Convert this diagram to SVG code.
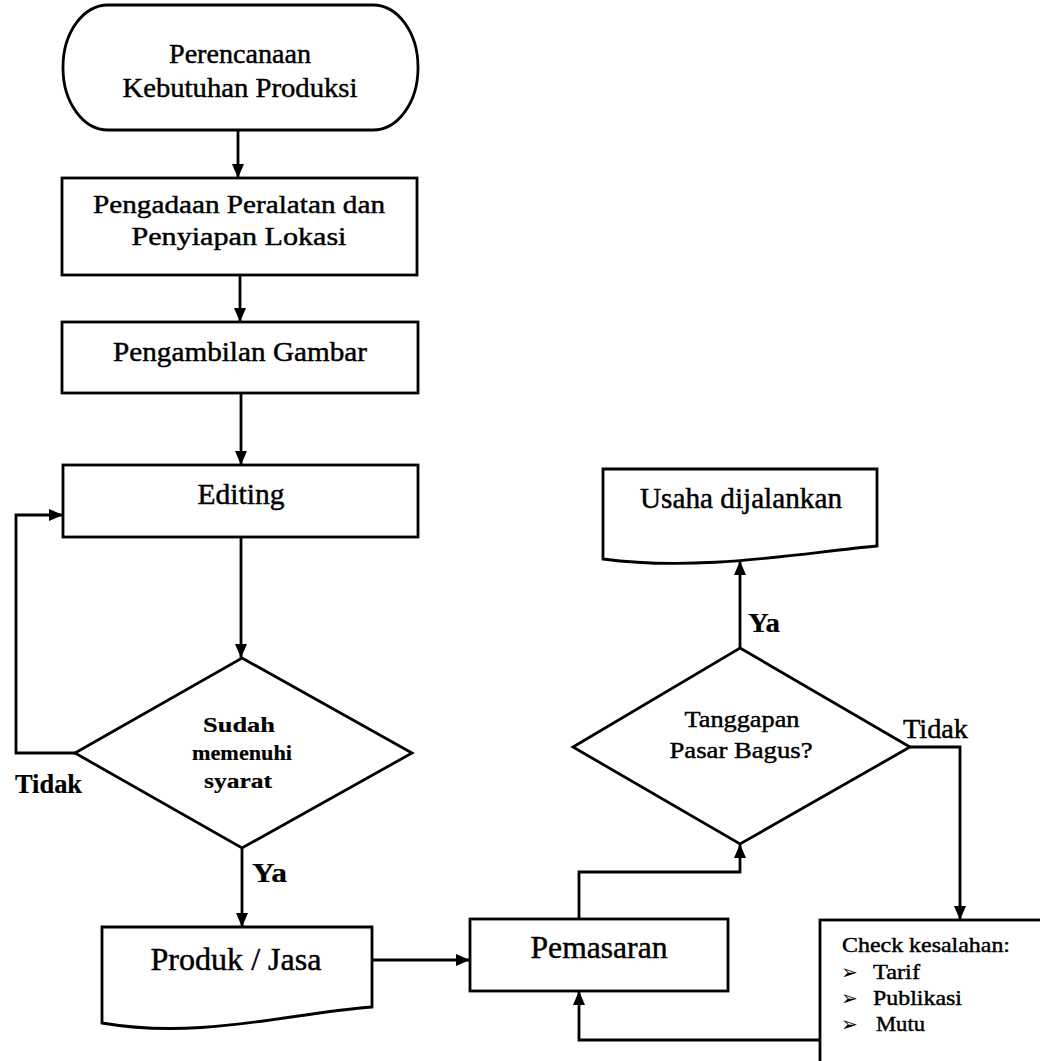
<svg xmlns="http://www.w3.org/2000/svg" width="1040" height="1061" viewBox="0 0 1040 1061">
<style>
.s{fill:#fff;stroke:#000;stroke-width:2.8}
.c{fill:none;stroke:#000;stroke-width:2.8}
.t{font-family:"Liberation Serif","Times New Roman",serif;fill:#000;stroke:#000;stroke-width:0.45}
.m{text-anchor:middle}
.b{font-weight:bold;stroke-width:0.2}
.bl{font-family:"DejaVu Sans",sans-serif;font-size:20px;fill:#000}
</style>
<defs>
<marker id="ah" markerWidth="14" markerHeight="14" refX="14" refY="7" orient="auto" markerUnits="userSpaceOnUse">
<path d="M0,1 L14,7 L0,13 z" fill="#000"/>
</marker>
</defs>
<rect width="1040" height="1061" fill="#fff"/>
<g id="connectors">
<path class="c" d="M238,130 V178" marker-end="url(#ah)"/>
<path class="c" d="M240,275 V322" marker-end="url(#ah)"/>
<path class="c" d="M241,393 V465" marker-end="url(#ah)"/>
<path class="c" d="M241,537 V658" marker-end="url(#ah)"/>
<path class="c" d="M75,753 H16 V515 H63" marker-end="url(#ah)"/>
<path class="c" d="M242,848 V927" marker-end="url(#ah)"/>
<path class="c" d="M372,960 H470" marker-end="url(#ah)"/>
<path class="c" d="M579,919 V872 H740 V844" marker-end="url(#ah)"/>
<path class="c" d="M740,648 V561" marker-end="url(#ah)"/>
<path class="c" d="M910,747 H960 V920" marker-end="url(#ah)"/>
<path class="c" d="M820,1040 H579 V991" marker-end="url(#ah)"/>
<text class="t b" x="15" y="793" font-size="27" textLength="67" lengthAdjust="spacingAndGlyphs">Tidak</text>
<text class="t b" x="252" y="882" font-size="27" textLength="35" lengthAdjust="spacingAndGlyphs">Ya</text>
<text class="t b" x="748" y="632" font-size="27" textLength="32" lengthAdjust="spacingAndGlyphs">Ya</text>
<text class="t" x="903" y="738" font-size="28" textLength="65" lengthAdjust="spacingAndGlyphs">Tidak</text>
</g>
<g id="start">
<rect class="s" x="63" y="5" width="355" height="125" rx="45" ry="62"/>
<text class="t m" x="240" y="63" font-size="28" textLength="142" lengthAdjust="spacingAndGlyphs">Perencanaan</text>
<text class="t m" x="240" y="97" font-size="28" textLength="235" lengthAdjust="spacingAndGlyphs">Kebutuhan Produksi</text>
</g>
<g id="pengadaan">
<rect class="s" x="62" y="178" width="355" height="97"/>
<text class="t m" x="239" y="213" font-size="26" textLength="292" lengthAdjust="spacingAndGlyphs">Pengadaan Peralatan dan</text>
<text class="t m" x="239" y="245" font-size="26" textLength="215" lengthAdjust="spacingAndGlyphs">Penyiapan Lokasi</text>
</g>
<g id="pengambilan">
<rect class="s" x="62" y="322" width="356" height="71"/>
<text class="t m" x="240" y="361" font-size="27" textLength="254" lengthAdjust="spacingAndGlyphs">Pengambilan Gambar</text>
</g>
<g id="editing">
<rect class="s" x="63" y="465" width="355" height="72"/>
<text class="t m" x="241" y="504" font-size="29" textLength="87" lengthAdjust="spacingAndGlyphs">Editing</text>
</g>
<g id="sudah">
<polygon class="s" points="242,658 412,753 242,848 75,753"/>
<text class="t m b" x="239" y="732" font-size="22" textLength="72" lengthAdjust="spacingAndGlyphs">Sudah</text>
<text class="t m b" x="242" y="760" font-size="22" textLength="100" lengthAdjust="spacingAndGlyphs">memenuhi</text>
<text class="t m b" x="238" y="788" font-size="22" textLength="68" lengthAdjust="spacingAndGlyphs">syarat</text>
</g>
<g id="produk">
<path class="s" d="M102,927 H372 V1007 C290,1013 200,1040 102,1023 Z"/>
<text class="t m" x="236" y="970" font-size="32" textLength="171" lengthAdjust="spacingAndGlyphs">Produk / Jasa</text>
</g>
<g id="pemasaran">
<rect class="s" x="470" y="919" width="258" height="72"/>
<text class="t m" x="599" y="958" font-size="31" textLength="137" lengthAdjust="spacingAndGlyphs">Pemasaran</text>
</g>
<g id="tanggapan">
<polygon class="s" points="740,648 910,747 740,844 573,747"/>
<text class="t m" x="742" y="727" font-size="24" textLength="115" lengthAdjust="spacingAndGlyphs">Tanggapan</text>
<text class="t m" x="741" y="758" font-size="24" textLength="143" lengthAdjust="spacingAndGlyphs">Pasar Bagus?</text>
</g>
<g id="usaha">
<path class="s" d="M603,469 H877 V546 C800,553 700,572 603,559 Z"/>
<text class="t m" x="741" y="508" font-size="29" textLength="202" lengthAdjust="spacingAndGlyphs">Usaha dijalankan</text>
</g>
<g id="check">
<rect class="s" x="820" y="920" width="240" height="160"/>
<text class="t" x="842" y="952" font-size="22" textLength="168" lengthAdjust="spacingAndGlyphs">Check kesalahan:</text>
<text class="bl" x="841" y="979">➢</text>
<text class="t" x="873" y="979" font-size="22" textLength="47" lengthAdjust="spacingAndGlyphs">Tarif</text>
<text class="bl" x="841" y="1005">➢</text>
<text class="t" x="873" y="1005" font-size="22" textLength="89" lengthAdjust="spacingAndGlyphs">Publikasi</text>
<text class="bl" x="841" y="1031">➢</text>
<text class="t" x="876" y="1031" font-size="22" textLength="49" lengthAdjust="spacingAndGlyphs">Mutu</text>
</g>
</svg>
